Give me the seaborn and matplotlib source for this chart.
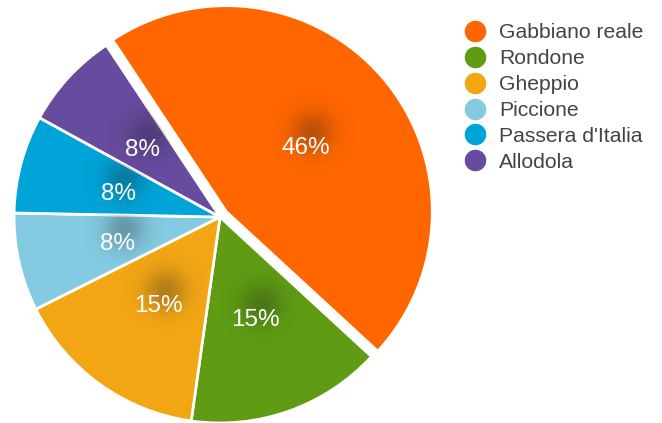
import matplotlib
matplotlib.use("Agg")
import numpy as np
import matplotlib.pyplot as plt
from matplotlib.lines import Line2D
import seaborn as sns

# Bird sightings
species = ["Gabbiano reale", "Rondone", "Gheppio", "Piccione", "Passera d'Italia", "Allodola"]
counts = [6, 2, 2, 1, 1, 1]
colors = ["#FF6600", "#5F9C14", "#F2A614", "#84CBE2", "#00A4D9", "#664B9E"]

sns.set_theme(style="white")
plt.rcParams["font.family"] = ["Liberation Sans", "DejaVu Sans"]
palette = sns.color_palette(colors)

W, H = 662, 423
fig = plt.figure(figsize=(W / 100, H / 100), dpi=100)
cx, cy, r = 220, 217, 206
ax = fig.add_axes([(cx - r) / W, (H - cy - r) / H, 2 * r / W, 2 * r / H])

wedges, _, autotexts = ax.pie(
    counts,
    colors=palette,
    startangle=123.5,
    counterclock=False,
    explode=[0.04, 0, 0, 0, 0, 0],
    autopct=lambda p: f"{p:.0f}%",
    pctdistance=0.51,
    wedgeprops=dict(edgecolor="white", linewidth=2),
    textprops=dict(color="white", fontsize=17.5),
)
for w in wedges:
    w.set_clip_on(False)

# soft dark shadow behind each percentage label
n = 101
g = np.linspace(-1, 1, n)
xx, yy = np.meshgrid(g, g)
blob = np.zeros((n, n, 4))
blob[..., 3] = 0.30 * np.exp(-(xx ** 2 + yy ** 2) / (2 * 0.36 ** 2))
blob[..., :3] = 0.12
half = 0.2
for t, w in zip(autotexts, wedges):
    x, y = t.get_position()
    y -= 0.02
    t.set_position((x, y))
    bx, by = x + 0.03, y + 0.075
    im = ax.imshow(blob, extent=(bx - half, bx + half, by - half, by + half),
                   zorder=1.5, interpolation="bilinear")
    im.set_clip_path(w)
    t.set_zorder(3)

ax.set_xlim(-1, 1)
ax.set_ylim(-1, 1)
ax.set_aspect("equal")
ax.axis("off")

handles = [
    Line2D([0], [0], marker="o", linestyle="", markersize=14.5,
           markerfacecolor=c, markeredgecolor=c)
    for c in palette
]
leg = fig.legend(
    handles, species,
    loc="upper left",
    bbox_to_anchor=(462 / W, 1 - 23 / H),
    frameon=False,
    fontsize=15.2,
    handletextpad=0.55,
    labelspacing=0.33,
    handlelength=1.2,
    borderaxespad=0,
    borderpad=0,
)
for txt in leg.get_texts():
    txt.set_color("#444444")

fig.savefig("out.png", dpi=100)
